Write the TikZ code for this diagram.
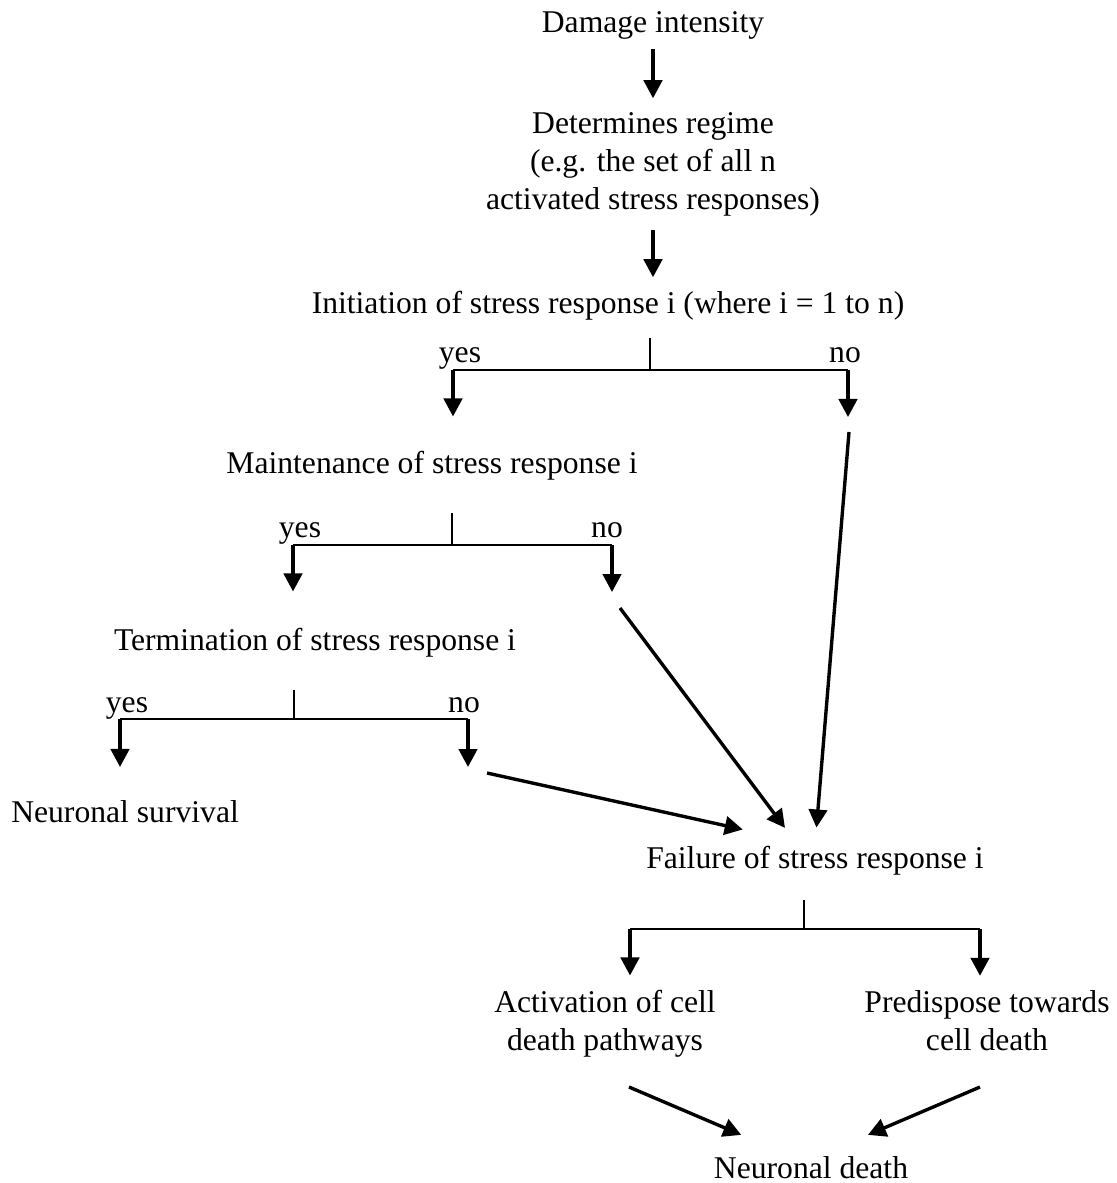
\documentclass[tikz,border=0pt]{standalone}
\usepackage{fontspec}
\setmainfont{Liberation Serif}
\usetikzlibrary{arrows.meta}
\begin{document}
\begin{tikzpicture}[
        x=0.025cm, y=-0.025cm,
        font=\fontsize{22.5}{27}\selectfont
    ]
    \tikzset{
        txtnode/.style = {inner sep=0pt, align=center, anchor=base},
        choice/.style = {inner sep=0pt, anchor=base},
        stem/.style = {line width=1.8pt},
        arrowline/.style = {line width=2.4pt, -{Triangle[length=0.45cm,width=0.46cm]}}
    }
    \useasboundingbox (0,0) rectangle (1117,1183);
    \node[txtnode] (dmg) at (653,33) {Damage intensity};
    \node[txtnode] (regime) at (653,209) {Determines regime\\(e.g. the set of all n\\activated stress responses)};
    \node[txtnode] (init) at (608,313) {Initiation of stress response i (where i = 1 to n)};
    \node[txtnode] (maint) at (432,473) {Maintenance of stress response i};
    \node[txtnode] (term) at (315,650) {Termination of stress response i};
    \node[txtnode, anchor=base west] (surv) at (11,822) {Neuronal survival};
    \node[txtnode] (fail) at (815,868) {Failure of stress response i};
    \node[txtnode] (act) at (605,1050) {Activation of cell\\death pathways};
    \node[txtnode] (pred) at (987,1050) {Predispose towards\\cell death};
    \node[txtnode] (death) at (811,1178) {Neuronal death};

    \draw[arrowline, shorten <=0.22cm, shorten >=0.34cm] (dmg) -- (regime);
    \draw[arrowline, shorten <=0.35cm, shorten >=0.33cm] (regime.south) -- (regime.south |- init.north);

    % initiation
    \coordinate (br1) at (650,370);
    \coordinate (yes1) at (453,370);
    \coordinate (no1) at (848,370);
    \coordinate (no1tip) at (848,417);
    \coordinate (no1out) at (849,432);
    \draw[stem, shorten <=0.45cm] (init.south -| br1) -- (br1);
    \draw[stem] (yes1) -- (no1);
    \draw[arrowline, shorten >=0.85cm] (yes1) -- (yes1 |- maint.north);
    \draw[arrowline] (no1) -- (no1tip);
    \node[choice] (yes1lbl) at (460,362) {yes};
    \node[choice] (no1lbl) at (845,362) {no};

    % maintenance
    \coordinate (br2) at (452,545);
    \coordinate (yes2) at (293,545);
    \coordinate (no2) at (612,545);
    \coordinate (no2tip) at (612,592);
    \coordinate (no2out) at (620,608);
    \draw[stem, shorten <=0.82cm] (maint.south -| br2) -- (br2);
    \draw[stem] (yes2) -- (no2);
    \draw[arrowline, shorten >=0.9cm] (yes2) -- (yes2 |- term.north);
    \draw[arrowline] (no2) -- (no2tip);
    \node[choice] (yes2lbl) at (300,537) {yes};
    \node[choice] (no2lbl) at (607,537) {no};

    % termination
    \coordinate (br3) at (294,719);
    \coordinate (yes3) at (120,719);
    \coordinate (no3) at (468,719);
    \coordinate (no3tip) at (468,767);
    \coordinate (no3out) at (487,773);
    \draw[stem, shorten <=0.82cm] (term.south -| br3) -- (br3);
    \draw[stem] (yes3) -- (no3);
    \draw[arrowline, shorten >=0.82cm] (yes3) -- (yes3 |- surv.north);
    \draw[arrowline] (no3) -- (no3tip);
    \node[choice] (yes3lbl) at (127,712) {yes};
    \node[choice] (no3lbl) at (464,712) {no};

    % into failure
    \draw[arrowline, shorten >=0.45cm] (no1out) -- (fail.north);
    \draw[arrowline, shorten >=0.55cm] (no2out) -- ([xshift=-0.42cm]fail.north);
    \draw[arrowline, shorten >=1.85cm] (no3out) -- (fail.north);

    % failure
    \coordinate (br4) at (804,929);
    \coordinate (left4) at (630,929);
    \coordinate (right4) at (980,929);
    \coordinate (actout) at (629,1087);
    \coordinate (predout) at (980,1087);
    \draw[stem, shorten <=0.62cm] (fail.south -| br4) -- (br4);
    \draw[stem] (left4) -- (right4);
    \draw[arrowline, shorten >=0.35cm] (left4) -- (left4 |- act.north);
    \draw[arrowline, shorten >=0.35cm] (right4) -- (right4 |- pred.north);
    \draw[arrowline, shorten >=1.33cm] (actout) -- ([xshift=-0.52cm]death.north);
    \draw[arrowline, shorten >=1.33cm] (predout) -- ([xshift=0.2cm]death.north);
\end{tikzpicture}
\end{document}
